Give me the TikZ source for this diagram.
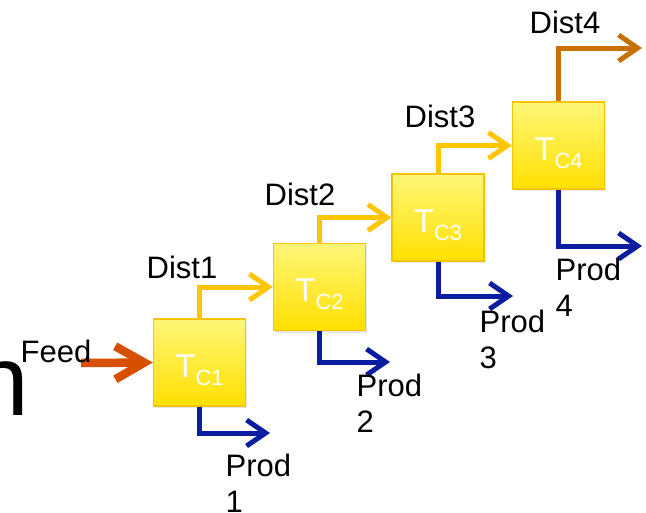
\documentclass[tikz,border=0pt]{standalone}
\usepackage{fontspec}
\setmainfont{Liberation Sans}
\usetikzlibrary{arrows.meta,shadows}

\definecolor{boxtop}{RGB}{255,246,120}
\definecolor{boxbot}{RGB}{255,224,0}
\definecolor{boxedge}{RGB}{244,196,0}
\definecolor{diststream}{RGB}{255,198,0}
\definecolor{prodstream}{RGB}{10,28,160}
\definecolor{feedstream}{RGB}{214,80,0}
\definecolor{topstream}{RGB}{200,112,0}

\newcommand\tsubc[1]{T\raisebox{-8pt}{\fontsize{22}{22}\selectfont #1}}

\begin{document}
\begin{tikzpicture}[x=1pt,y=-1pt,
  column/.style={draw=boxedge, line width=1.2pt, top color=boxtop, bottom color=boxbot,
    minimum width=92pt, minimum height=87pt, inner sep=0pt,
    drop shadow={opacity=0.18, shadow xshift=1.5pt, shadow yshift=-2pt}},
  tclabel/.style={inner sep=0pt, text=white, font=\fontsize{33}{33}\selectfont},
  lab/.style={anchor=base west, inner sep=0pt, align=left, font=\fontsize{31}{36}\selectfont},
  stream/.style={line width=5pt, -{Straight Barb[length=19pt,width=26pt]}},
  diststyle/.style={stream, draw=diststream},
  prodstyle/.style={stream, draw=prodstream},
  topstyle/.style={stream, draw=topstream},
  feedstyle/.style={line width=8.5pt, draw=feedstream, -{Straight Barb[length=29pt,width=33pt]}}]
\useasboundingbox (0,0) rectangle (646,512);
\clip (0,0) rectangle (646,512);

% cut-off heading letter at the left edge
\node[anchor=base west, inner sep=0pt, font=\fontsize{100}{100}\selectfont] (hd) at (-26.7,415) {n};

% distillation columns
\node[column] (b1) at (199.5,362.5) {};
\node[column] (b2) at (319.5,287) {};
\node[column] (b3) at (438,217.5) {};
\node[column] (b4) at (558.5,145.5) {};
\node[tclabel] (t1) at ([yshift=-7.5pt]b1.center) {\tsubc{C1}};
\node[tclabel] (t2) at ([yshift=-7.5pt]b2.center) {\tsubc{C2}};
\node[tclabel] (t3) at ([yshift=-7.5pt]b3.center) {\tsubc{C3}};
\node[tclabel] (t4) at ([yshift=-7.5pt]b4.center) {\tsubc{C4}};

% free stream ends
\coordinate (feedin) at (81,363);
\coordinate (d4) at (642,48);
\coordinate (p1) at (270,433);
\coordinate (p2) at (390,362);
\coordinate (p3) at (513,296);
\coordinate (p4) at (642,246);

% streams
\draw[feedstyle] (feedin) -- (b1.west);
\draw[diststyle] (b1.north) |- (b2.west);
\draw[diststyle] (b2.north) |- (b3.west);
\draw[diststyle] (b3.north) |- (b4.west);
\draw[topstyle] (b4.north) |- (d4);
\draw[prodstyle] (b1.south) |- (p1);
\draw[prodstyle] (b2.south) |- (p2);
\draw[prodstyle] (b3.south) |- (p3);
\draw[prodstyle] (b4.south) |- (p4);

% stream labels (two-line labels are placed by the baseline of their last line)
\node[lab] (lfeed) at (20.5,362) {Feed};
\node[lab] (ld1) at (146.5,278) {Dist1};
\node[lab] (ld2) at (264.5,205) {Dist2};
\node[lab] (ld3) at (404.5,127) {Dist3};
\node[lab] (ld4) at (529.5,33) {Dist4};
\node[lab] (lp1) at (225.5,512) {Prod\\1};
\node[lab] (lp2) at (356.5,432) {Prod\\2};
\node[lab] (lp3) at (479.5,368) {Prod\\3};
\node[lab] (lp4) at (555.5,316) {Prod\\4};
\end{tikzpicture}
\end{document}
